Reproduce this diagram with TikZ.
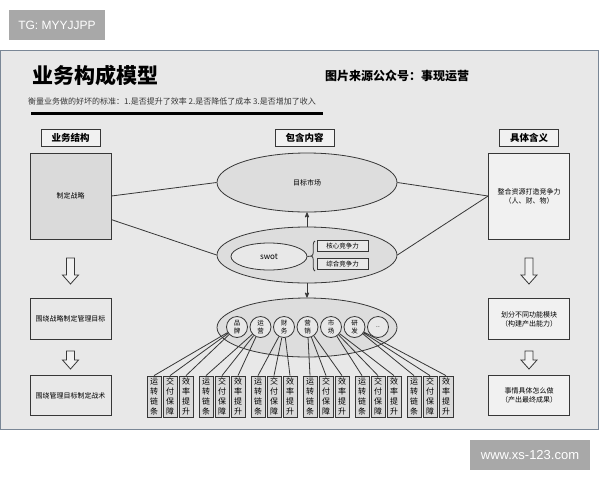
\documentclass[tikz,border=0pt]{standalone}
\usepackage{fontspec}
\setmainfont{Noto Sans CJK SC}
\newfontfamily\wmfont{Liberation Sans}
\usepackage{tikz}
\usetikzlibrary{arrows,shapes.geometric,decorations.pathreplacing}
\definecolor{panelgray}{RGB}{232, 232, 232}
\definecolor{panelrim}{RGB}{122, 135, 150}
\definecolor{stampgray}{RGB}{168, 168, 168}
\definecolor{inkgray}{RGB}{55, 55, 55}
\definecolor{boxdark}{RGB}{218, 218, 218}
\definecolor{boxlight}{RGB}{241, 241, 241}
\definecolor{ovalgray}{RGB}{221, 221, 221}

\tikzset{
  basebox/.style={draw=inkgray, line width=0.8pt, inner sep=0pt, align=center, text=black},
  headbox/.style={basebox, fill=boxlight, minimum width=59, minimum height=17, font=\fontsize{9.5}{10}\selectfont\bfseries},
  bigbox/.style={basebox, minimum width=81, minimum height=86, font=\fontsize{7}{9}\selectfont},
  lowbox/.style={basebox, fill=panelgray, minimum width=81, minimum height=40.5, font=\fontsize{7}{9}\selectfont},
  oval/.style={basebox, ellipse, fill=ovalgray, minimum width=180, font=\fontsize{7}{9}\selectfont},
  tagbox/.style={basebox, fill=panelgray, minimum width=51, minimum height=11, font=\fontsize{6.5}{7}\selectfont},
  unit/.style={basebox, circle, fill=panelgray, minimum size=21, font=\fontsize{6.5}{7.5}\selectfont},
  task/.style={basebox, fill=boxdark, minimum width=14, minimum height=41, font=\fontsize{8}{10}\selectfont},
  link/.style={inkgray, line width=0.8pt},
  flow/.style={link, ->, >=stealth'},
  wmark/.style={fill=stampgray, text=white, inner sep=0pt},
  arrowbody/.style={draw=inkgray, fill=boxlight, line width=0.8pt},
}

% x, top, bottom of a hollow down arrow
\newcommand{\hollowarrow}[3]{%
  \draw[arrowbody] (#1-4,#2) -- (#1+4,#2) -- (#1+4,#3-9) -- (#1+8,#3-9) -- (#1,#3)
                   -- (#1-8,#3-9) -- (#1-4,#3-9) -- cycle;}

\begin{document}
\begin{tikzpicture}[x=1pt, y=-1pt]
            \useasboundingbox (0,0) rectangle (600,480);
            % Stamps
            \node[wmark, minimum width=96, minimum height=30, font=\wmfont\fontsize{12}{12}\selectfont]  (tg)   at ( 57.0, 25.0) {TG: MYYJJPP};
            \node[wmark, minimum width=120, minimum height=30, font=\wmfont\fontsize{13}{13}\selectfont] (site) at (530.0,455.0) {www.xs-123.com};
            % Panel
            \draw[fill=panelgray, draw=panelrim, line width=0.8pt]         (  0.0, 50.0) rectangle (598.0,429.0);
            % Titles
            \node[anchor=west, inner sep=0pt, font=\fontsize{21}{21}\selectfont\bfseries] (title)    at ( 32.0, 75.0) {业务构成模型};
            \node[anchor=west, inner sep=0pt, font=\fontsize{12}{12}\selectfont\bfseries] (source)   at (325.0, 76.0) {图片来源公众号：事现运营};
            \node[anchor=west, inner sep=0pt, text=inkgray, font=\fontsize{8}{8}\selectfont] (criteria) at ( 28.0,101.0)
                 {衡量业务做的好坏的标准：1.是否提升了效率 2.是否降低了成本 3.是否增加了收入};
            \draw[line width=3pt]                                              ( 31.0,113.0) -- (323.0,113.0);
            % Column heads
            \node[headbox] (hstruct)  at ( 70.5,137.5) {业务结构};
            \node[headbox] (hcontent) at (304.5,137.5) {包含内容};
            \node[headbox] (hmeaning) at (529.0,137.5) {具体含义};
            % Left column
            \node[bigbox, fill=boxdark]  (strategy) at ( 70.5,196.0) {制定战略};
            \node[lowbox]                (mgmtgoal) at ( 70.5,319.0) {围绕战略制定管理目标};
            \node[lowbox]                (tactic)   at ( 70.5,395.5) {围绕管理目标制定战术};
            \hollowarrow{70.5}{258}{284}
            \hollowarrow{70.5}{351}{369}
            % Right column
            \node[bigbox, fill=boxlight] (resource) at (529.0,196.0) {整合资源打造竞争力\\（人、财、物）};
            \node[lowbox, fill=boxlight] (module)   at (529.0,319.0) {划分不同功能模块\\（构建产出能力）};
            \node[lowbox, fill=boxlight] (outcome)  at (529.0,395.5) {事情具体怎么做\\（产出最终成果）};
            \hollowarrow{529}{258}{284}
            \hollowarrow{529}{351}{369}
            % Middle column
            \node[oval, minimum height=59] (target)  at (307.0,182.5) {目标市场};
            \node[oval, minimum height=56] (compete) at (307.0,255.0) {};
            \node[oval, minimum height=59] (depart)  at (307.0,327.5) {};
            \node[oval, fill=panelgray, minimum width=76, minimum height=27, font=\fontsize{8}{8}\selectfont] (swot) at (269.0,256.5) {swot};
            \node[tagbox] (core)    at (342.5,246.0) {核心竞争力};
            \node[tagbox] (overall) at (342.5,264.0) {综合竞争力};
            \draw[link, decorate, decoration={brace, amplitude=3.5pt}]      (315.0,271.0) -- (315.0,241.0);
            \coordinate (bracetip) at (311.5,256.0);
            \draw[link] (swot.east) -- (bracetip);
            \draw[flow] (compete.north) -- (target.south);
            \draw[flow] (compete.south) -- (depart.north);
            % Links to side columns
            \draw[link] (strategy.east) -- (target.west);
            \draw[link] (strategy.-30)  -- (compete.west);
            \draw[link] (target.east)   -- (resource.west);
            \draw[link] (compete.east)  -- (resource.west);
            % Departments
            \node[unit] (brand)   at (237.0,327.0) {品\\牌};
            \node[unit] (ops)     at (260.5,327.0) {运\\营};
            \node[unit] (finance) at (284.0,327.0) {财\\务};
            \node[unit] (sales)   at (307.5,327.0) {营\\销};
            \node[unit] (mkt)     at (331.0,327.0) {市\\场};
            \node[unit] (rnd)     at (354.5,327.0) {研\\发};
            \node[unit] (more)    at (378.0,327.0) {..};
            % Tasks
            \node[task] (brand1)   at (154.0,396.5) {运\\转\\链\\条};
            \node[task] (brand2)   at (170.0,396.5) {交\\付\\保\\障};
            \node[task] (brand3)   at (186.0,396.5) {效\\率\\提\\升};
            \node[task] (ops1)     at (206.0,396.5) {运\\转\\链\\条};
            \node[task] (ops2)     at (222.0,396.5) {交\\付\\保\\障};
            \node[task] (ops3)     at (238.0,396.5) {效\\率\\提\\升};
            \node[task] (finance1) at (258.0,396.5) {运\\转\\链\\条};
            \node[task] (finance2) at (274.0,396.5) {交\\付\\保\\障};
            \node[task] (finance3) at (290.0,396.5) {效\\率\\提\\升};
            \node[task] (sales1)   at (310.0,396.5) {运\\转\\链\\条};
            \node[task] (sales2)   at (326.0,396.5) {交\\付\\保\\障};
            \node[task] (sales3)   at (342.0,396.5) {效\\率\\提\\升};
            \node[task] (mkt1)     at (362.0,396.5) {运\\转\\链\\条};
            \node[task] (mkt2)     at (378.0,396.5) {交\\付\\保\\障};
            \node[task] (mkt3)     at (394.0,396.5) {效\\率\\提\\升};
            \node[task] (rnd1)     at (414.0,396.5) {运\\转\\链\\条};
            \node[task] (rnd2)     at (430.0,396.5) {交\\付\\保\\障};
            \node[task] (rnd3)     at (446.0,396.5) {效\\率\\提\\升};
            % Fans
            \draw[link] (brand)   -- (brand1.north)   (brand)   -- (brand2.north)   (brand)   -- (brand3.north);
            \draw[link] (ops)     -- (ops1.north)     (ops)     -- (ops2.north)     (ops)     -- (ops3.north);
            \draw[link] (finance) -- (finance1.north) (finance) -- (finance2.north) (finance) -- (finance3.north);
            \draw[link] (sales)   -- (sales1.north)   (sales)   -- (sales2.north)   (sales)   -- (sales3.north);
            \draw[link] (mkt)     -- (mkt1.north)     (mkt)     -- (mkt2.north)     (mkt)     -- (mkt3.north);
            \draw[link] (rnd)     -- (rnd1.north)     (rnd)     -- (rnd2.north)     (rnd)     -- (rnd3.north);
        \end{tikzpicture}
\end{document}
